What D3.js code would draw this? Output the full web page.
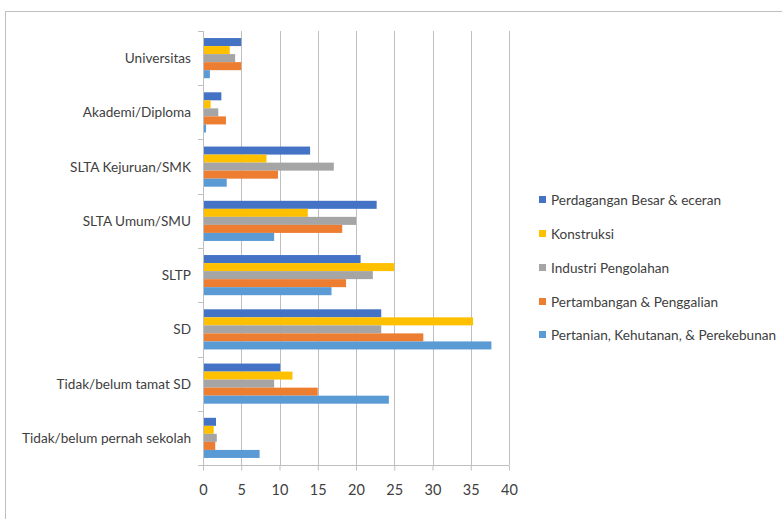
<!DOCTYPE html>
<html>
<head>
<meta charset="utf-8">
<script src="https://cdn.jsdelivr.net/npm/d3@7"></script>
<style>
  html, body { margin: 0; padding: 0; background: #fff; }
  svg { display: block; }
  text { font-family: Lato, "Liberation Sans", sans-serif; fill: #404040; }
</style>
</head>
<body>
<script>
// ---- Data ----
const categories = [
  "Universitas",
  "Akademi/Diploma",
  "SLTA Kejuruan/SMK",
  "SLTA Umum/SMU",
  "SLTP",
  "SD",
  "Tidak/belum tamat SD",
  "Tidak/belum pernah sekolah"
];
const seriesNames = [
  "Perdagangan Besar & eceran",
  "Konstruksi",
  "Industri Pengolahan",
  "Pertambangan & Penggalian",
  "Pertanian, Kehutanan, & Perekebunan"
];
const perdagangan  = [5.0, 2.4, 14.0, 22.7, 20.6, 23.3, 10.1, 1.7];
const konstruksi   = [3.5, 1.0, 8.3, 13.7, 25.0, 35.3, 11.7, 1.4];
const industri     = [4.2, 2.0, 17.1, 20.0, 22.2, 23.3, 9.3, 1.8];
const pertambangan = [5.0, 3.0, 9.8, 18.2, 18.7, 28.8, 15.0, 1.6];
const pertanian    = [0.9, 0.4, 3.1, 9.3, 16.8, 37.7, 24.3, 7.4];
const xTicks = [0, 5, 10, 15, 20, 25, 30, 35, 40];
const colors = ["#4472C4", "#FFC000", "#A5A5A5", "#ED7D31", "#5B9BD5"];

const seriesValues = [perdagangan, konstruksi, industri, pertambangan, pertanian];

// ---- Layout ----
const W = 782, H = 519;
const plot = { left: 203, right: 509, top: 31, bottom: 465 };
const FS = 13.6;

const svg = d3.select("body").append("svg").attr("width", W).attr("height", H);

// chart border
svg.append("rect")
  .attr("x", 5.5).attr("y", 11.5)
  .attr("width", W + 10).attr("height", H + 10)
  .attr("fill", "none").attr("stroke", "#BFBFBF").attr("stroke-width", 1);

const x = d3.scaleLinear().domain([0, 40]).range([plot.left, plot.right]);
const y0 = d3.scaleBand().domain(categories).range([plot.top, plot.bottom])
  .paddingInner(0.26).paddingOuter(0.13);
const y1 = d3.scaleBand().domain(seriesNames).range([0, y0.bandwidth()]);

// gridlines
svg.append("g").selectAll("line").data(xTicks.filter(d => d > 0)).join("line")
  .attr("x1", d => Math.round(x(d)) + 0.5).attr("x2", d => Math.round(x(d)) + 0.5)
  .attr("y1", plot.top).attr("y2", plot.bottom)
  .attr("stroke", "#BFBFBF").attr("stroke-width", 1);

// bars
const rows = categories.map((c, i) => ({ cat: c, vals: seriesValues.map((s, j) => ({ name: seriesNames[j], v: s[i], color: colors[j] })) }));
const g = svg.append("g");
g.selectAll("g.cat").data(rows).join("g")
  .attr("class", "cat")
  .attr("transform", d => `translate(0,${y0(d.cat)})`)
  .selectAll("rect").data(d => d.vals).join("rect")
  .attr("x", x(0))
  .attr("y", d => y1(d.name))
  .attr("height", y1.bandwidth())
  .attr("width", d => x(d.v) - x(0))
  .attr("fill", d => d.color);

// bottom axis
const xAxis = d3.axisBottom(x).tickValues(xTicks).tickSize(5).tickPadding(14).tickFormat(d3.format("d"));
const gx = svg.append("g").attr("transform", `translate(0,${plot.bottom + 0.5})`).call(xAxis);
gx.select(".domain").attr("stroke", "#BFBFBF").attr("d", `M${plot.left},0H${plot.right}`);
gx.selectAll(".tick line").attr("stroke", "#BFBFBF");
gx.selectAll(".tick text").attr("font-size", 14.5).attr("fill", "#404040")
  .style("font-family", "Lato, 'Liberation Sans', sans-serif");

// left axis: line plus ticks at category boundaries
const gy = svg.append("g");
gy.append("line")
  .attr("x1", plot.left + 0.5).attr("x2", plot.left + 0.5)
  .attr("y1", plot.top).attr("y2", plot.bottom)
  .attr("stroke", "#BFBFBF");
const boundaries = categories.map(c => y0(c) - y0.step() * y0.paddingInner() / 2).concat([plot.bottom]);
gy.selectAll("line.bt").data(boundaries).join("line")
  .attr("class", "bt")
  .attr("x1", plot.left - 5).attr("x2", plot.left)
  .attr("y1", d => Math.round(d) + 0.5).attr("y2", d => Math.round(d) + 0.5)
  .attr("stroke", "#BFBFBF");
gy.selectAll("text").data(categories).join("text")
  .attr("x", 191)
  .attr("y", c => y0(c) + y0.bandwidth() / 2)
  .attr("text-anchor", "end")
  .attr("dominant-baseline", "central")
  .attr("font-size", FS)
  .text(c => c);

// legend
const legendY = [200, 234, 268, 302, 335];
const lg = svg.append("g");
const items = lg.selectAll("g").data(seriesNames).join("g")
  .attr("transform", (d, i) => `translate(539,${legendY[i]})`);
items.append("rect").attr("x", 0).attr("y", -4).attr("width", 7).attr("height", 7)
  .attr("fill", (d, i) => colors[i]);
items.append("text").attr("x", 12).attr("y", 0)
  .attr("dominant-baseline", "central").attr("font-size", FS)
  .text(d => d);
</script>
</body>
</html>
